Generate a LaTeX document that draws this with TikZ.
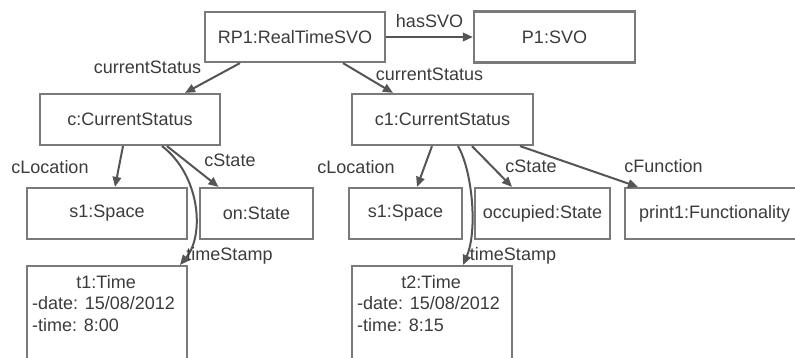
\documentclass[tikz,border=0pt]{standalone}
\usepackage{fontspec}
\setmainfont{Liberation Sans}
\usetikzlibrary{arrows.meta}
\definecolor{boxline}{HTML}{7A7A7A}
\definecolor{edgeline}{HTML}{555555}
\definecolor{ink}{HTML}{3C3C3C}
\tikzset{
  every node/.style={font=\fontsize{18}{21.5}\selectfont, text=ink},
  obj/.style={draw=boxline, line width=2.2pt, rectangle, inner sep=0pt},
  rel/.style={draw=edgeline, line width=2pt, -{Triangle[length=10pt,width=8.5pt]}},
  lbl/.style={anchor=base, inner sep=0pt}
}
\begin{document}
\begin{tikzpicture}[x=1pt,y=-1pt]
\clip (0,0) rectangle (795,358);
\fill[white] (0,0) rectangle (795,358);

% objects
\node[obj, minimum width=180pt, minimum height=50pt] (rp) at (295,37) {RP1:RealTimeSVO};
\node[obj, minimum width=161pt, minimum height=51pt] (p1) at (554.5,37) {P1:SVO};
\node[obj, minimum width=180pt, minimum height=51pt] (c) at (130,119.5) {c:CurrentStatus};
\node[obj, minimum width=181pt, minimum height=51pt] (c1) at (442.5,119.5) {c1:CurrentStatus};
\node[obj, minimum width=160pt, minimum height=51pt] (sa) at (107,213.5) {s1:Space};
\node[obj, minimum width=113pt, minimum height=51pt] (on) at (256.5,213.5) {on:State};
\node[obj, minimum width=113pt, minimum height=51pt] (sb) at (405.5,213.5) {s1:Space};
\node[obj, minimum width=135pt, minimum height=51pt] (occ) at (542.5,213.5) {occupied:State};
\node[obj, minimum width=180pt, minimum height=51pt, text width=168pt, align=left] (fn) at (715,213.5) {\hspace*{8pt}print1:Functionality};
\node[obj, minimum width=160pt, minimum height=120pt, anchor=north] (ta) at (107,265) {};
\node[obj, minimum width=160pt, minimum height=120pt, anchor=north] (tb) at (432,265) {};

% attribute lists of the time objects
\node[anchor=north west, inner sep=0pt, align=left] (tatext) at ([xshift=6pt,yshift=-10pt]ta.north west)
  {\makebox[148pt][c]{t1:Time}\\-date: 15/08/2012\\-time: 8:00};
\node[anchor=north west, inner sep=0pt, align=left] (tbtext) at ([xshift=6pt,yshift=-10pt]tb.north west)
  {\makebox[148pt][c]{t2:Time}\\-date: 15/08/2012\\-time: 8:15};

% relations
\draw[rel] (rp.east) -- (p1.west);
\draw[rel] ([xshift=-55pt]rp.south) -- ([xshift=55pt]c.north);
\draw[rel] ([xshift=48pt]rp.south) -- ([xshift=-49.5pt]c1.north);
\draw[rel] ([xshift=-7pt]c.south) -- ([xshift=8pt]sa.north);
\draw[rel] ([xshift=37pt]c.south) -- ([xshift=-38pt]on.north);
\draw[rel] ([xshift=32pt]c.south) .. controls (200,175) and (205,235) .. ([xshift=73pt]ta.north);
\draw[rel] ([xshift=-10.5pt]c1.south) -- ([xshift=11.5pt]sb.north);
\draw[rel] ([xshift=15.5pt]c1.south) .. controls (472,170) and (478,230) .. ([xshift=31pt]tb.north);
\draw[rel] ([xshift=29.5pt]c1.south) -- ([xshift=-30.5pt]occ.north);
\draw[rel] ([xshift=77.5pt]c1.south) -- ([xshift=-77pt]fn.north);

% relation names
\node[lbl] (l-has) at (429.5,28) {hasSVO};
\node[lbl] (l-cs1) at (147.5,74) {currentStatus};
\node[lbl] (l-cs2) at (429.5,81) {currentStatus};
\node[lbl] (l-loc1) at (50,174) {cLocation};
\node[lbl] (l-st1) at (230,167) {cState};
\node[lbl] (l-loc2) at (356,174) {cLocation};
\node[lbl] (l-st2) at (531,173) {cState};
\node[lbl] (l-fn) at (663.5,173) {cFunction};
\node[lbl] (l-ts1) at (229.5,260) {timeStamp};
\node[lbl] (l-ts2) at (513,260) {timeStamp};
\end{tikzpicture}
\end{document}
